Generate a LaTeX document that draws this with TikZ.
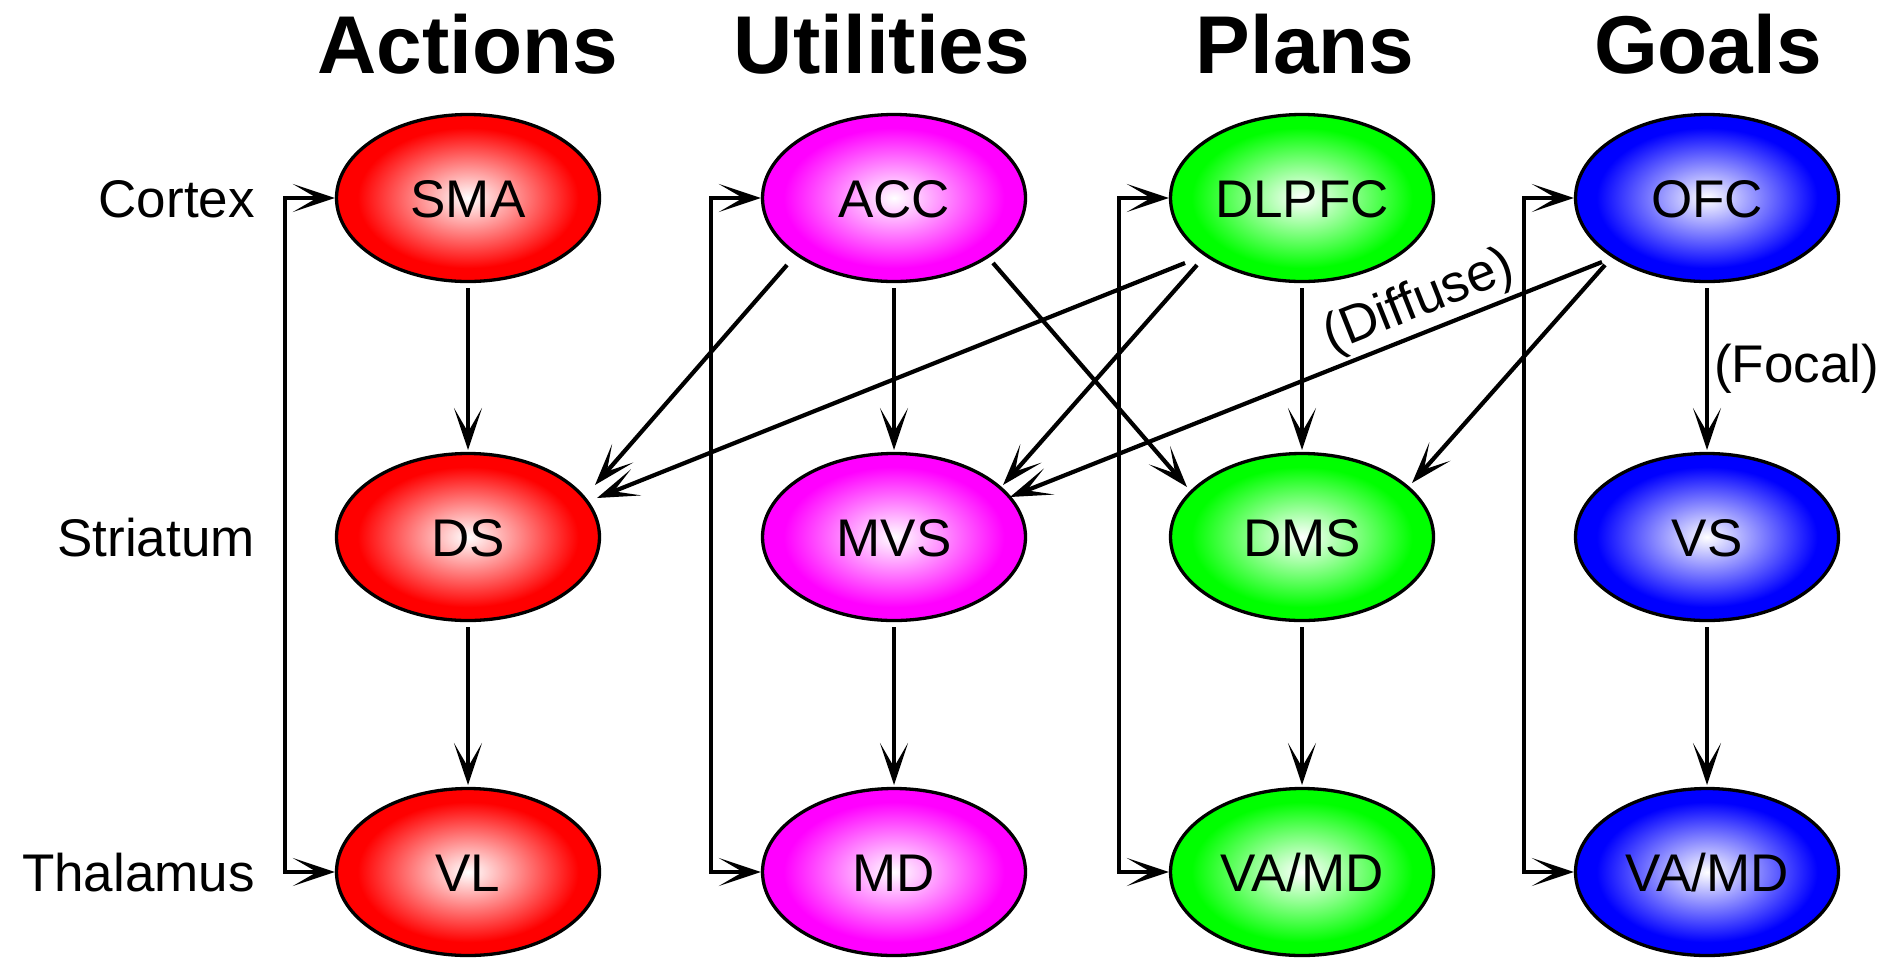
\documentclass[tikz,border=0pt]{standalone}
\usepackage{fontspec}
\setmainfont{Liberation Sans}
\usetikzlibrary{shapes.geometric,arrows.meta,calc}
\definecolor{cRed}{rgb}{1,0,0}
\definecolor{cMag}{rgb}{1,0,1}
\definecolor{cGreen}{rgb}{0,1,0}
\definecolor{cBlue}{rgb}{0,0,1}
\pgfdeclareradialshading{redball}{\pgfpoint{0bp}{0bp}}{color(0bp)=(white); color(21bp)=(cRed); color(50bp)=(cRed)}
\pgfdeclareradialshading{magball}{\pgfpoint{0bp}{0bp}}{color(0bp)=(white); color(21bp)=(cMag); color(50bp)=(cMag)}
\pgfdeclareradialshading{greenball}{\pgfpoint{0bp}{0bp}}{color(0bp)=(white); color(21bp)=(cGreen); color(50bp)=(cGreen)}
\pgfdeclareradialshading{blueball}{\pgfpoint{0bp}{0bp}}{color(0bp)=(white); color(21bp)=(cBlue); color(50bp)=(cBlue)}
\tikzset{
  region/.style={ellipse, draw=black, line width=3.3pt, minimum width=263pt, minimum height=167pt,
    inner sep=0pt, font=\fontsize{53}{60}\selectfont, text height=38pt, text depth=0pt, shade},
  redreg/.style={region, shading=redball},
  magreg/.style={region, shading=magball},
  greenreg/.style={region, shading=greenball},
  bluereg/.style={region, shading=blueball},
  title/.style={font=\fontsize{82}{96}\selectfont\bfseries, anchor=base, inner sep=0pt},
  rowlbl/.style={font=\fontsize{53}{60}\selectfont, anchor=east, inner sep=0pt, text height=38pt, text depth=0pt},
  lbl/.style={font=\fontsize{53}{60}\selectfont},
  tip/.tip={Stealth[length=42pt,width=28pt,inset=24pt]},
  conn/.style={line width=4.2pt, draw=black, -tip},
  loop/.style={line width=4.2pt, draw=black, tip-tip},
}
\begin{document}
\begin{tikzpicture}[x=1pt,y=-1pt]
\useasboundingbox (0,0) rectangle (1903,959);
% titles
\node[title] (tA) at (468,73) {Actions};
\node[title] (tU) at (882,73) {Utilities};
\node[title] (tP) at (1305,73) {Plans};
\node[title] (tG) at (1708,73) {Goals};
% row labels
\node[rowlbl] (rC) at (255,198) {Cortex};
\node[rowlbl] (rS) at (255,537) {Striatum};
\node[rowlbl] (rT) at (255,872) {Thalamus};
% regions
\node[redreg] (SMA) at (468,198) {SMA};
\node[redreg] (DS) at (468,537) {DS};
\node[redreg] (VL) at (468,872) {VL};
\node[magreg] (ACC) at (894,198) {ACC};
\node[magreg] (MVS) at (894,537) {MVS};
\node[magreg] (MD) at (894,872) {MD};
\node[greenreg] (DLPFC) at (1302,198) {DLPFC};
\node[greenreg] (DMS) at (1302,537) {DMS};
\node[greenreg] (VAMDp) at (1302,872) {VA/MD};
\node[bluereg] (OFC) at (1707,198) {OFC};
\node[bluereg] (VS) at (1707,537) {VS};
\node[bluereg] (VAMDg) at (1707,872) {VA/MD};
% loops
\draw[loop] (SMA.west) -- ++(-50,0) |- (VL.west);
\draw[loop] (ACC.west) -- ++(-50,0) |- (MD.west);
\draw[loop] (DLPFC.west) -- ++(-50,0) |- (VAMDp.west);
\draw[loop] (OFC.west) -- ++(-50,0) |- (VAMDg.west);
% vertical arrows
\draw[conn] ($(SMA)+(0,90)$) -- ($(DS)+(0,-87)$);
\draw[conn] ($(DS)+(0,90)$) -- ($(VL)+(0,-87)$);
\draw[conn] ($(ACC)+(0,90)$) -- ($(MVS)+(0,-87)$);
\draw[conn] ($(MVS)+(0,90)$) -- ($(MD)+(0,-87)$);
\draw[conn] ($(DLPFC)+(0,90)$) -- ($(DMS)+(0,-87)$);
\draw[conn] ($(DMS)+(0,90)$) -- ($(VAMDp)+(0,-87)$);
\draw[conn] ($(OFC)+(0,90)$) -- node[midway, right, inner sep=5pt, lbl] (focal) {(Focal)} ($(VS)+(0,-87)$);
\draw[conn] ($(VS)+(0,90)$) -- ($(VAMDg)+(0,-87)$);
% diagonal arrows
\draw[conn] ($(ACC)+(-107,67)$) -- ($(DS)+(127,-52)$);
\draw[conn] ($(ACC)+(99,65)$) -- ($(DMS)+(-115,-50)$);
\draw[conn] ($(DLPFC)+(-117,65)$) -- ($(DS)+(129,-39)$);
\draw[conn] ($(DLPFC)+(-105,67)$) -- ($(MVS)+(109,-52)$);
\draw[conn] ($(OFC)+(-105,64)$) -- node[pos=0.29, anchor=south, rotate=21.7, inner sep=3pt, lbl] (diffuse) {(Diffuse)} ($(MVS)+(116,-40)$);
\draw[conn] ($(OFC)+(-102,67)$) -- ($(DMS)+(110,-54)$);
\end{tikzpicture}
\end{document}
